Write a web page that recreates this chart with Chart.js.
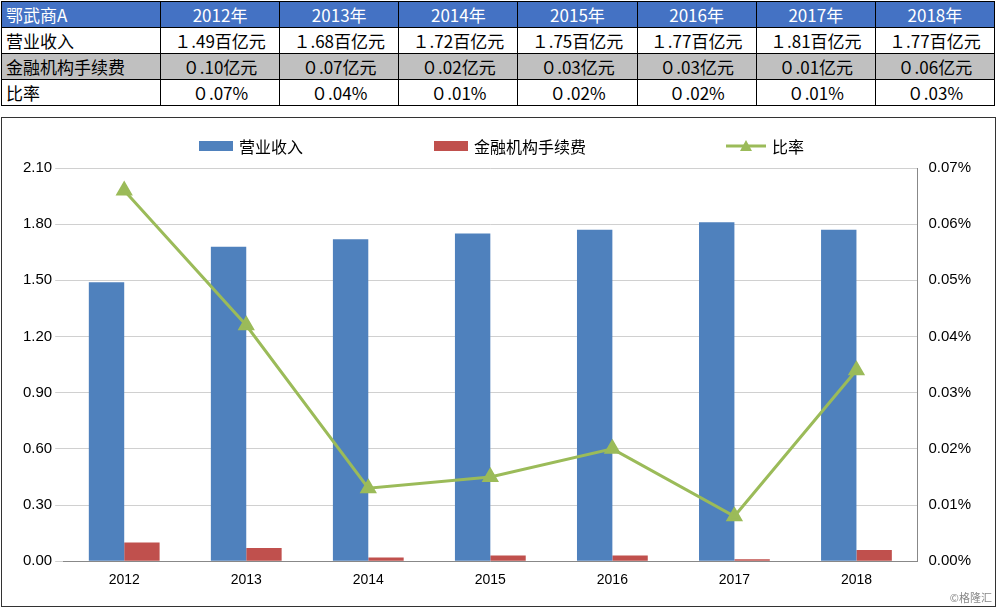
<!DOCTYPE html>
<html><head><meta charset="utf-8">
<script src="https://cdn.jsdelivr.net/npm/chart.js@4"></script>
<style>
body{margin:0;background:#fff;font-family:"Noto Sans CJK SC","DejaVu Sans",sans-serif;}
table{position:absolute;left:1px;top:1px;width:994px;border-collapse:collapse;font-size:17px;}
td{border:1px solid #000;height:25px;padding:0 4px;text-align:center;white-space:nowrap;}
tr.h td{background:#4472C4;color:#fff;}
tr.h td:first-child{text-align:left}
tr.g td{background:#c0c0c0}
td:first-child{text-align:left;width:150px}
#box{position:absolute;left:1px;top:117px;width:993px;height:488px;border:1px solid #333;}
#wm{position:absolute;right:8px;bottom:4px;font-size:11px;color:#888}
.lg{position:absolute;top:16px;font-size:16px;display:flex;align-items:center}
.lg i{display:inline-block;width:34px;height:10px;margin-right:6px}
</style></head><body>
<table id="tbl"></table>
<div id="box"><canvas id="c"></canvas>
<div class="lg" style="left:197px"><i style="background:#4F81BD"></i>营业收入</div>
<div class="lg" style="left:432px"><i style="background:#C0504D"></i>金融机构手续费</div>
<div class="lg" style="left:724px"><svg width="40" height="14" style="margin-right:6px"><line x1="0" y1="7" x2="40" y2="7" stroke="#9BBB59" stroke-width="3"/><polygon points="20,1 26,12 14,12" fill="#9BBB59"/></svg>比率</div>
</div>
<div id="wm">©格隆汇</div>
<script>
const years = ['2012','2013','2014','2015','2016','2017','2018'];
const revenue = [1.49, 1.68, 1.72, 1.75, 1.77, 1.81, 1.77];
const fees = [0.10, 0.07, 0.02, 0.03, 0.03, 0.01, 0.06];
const ratio = [0.066, 0.042, 0.013, 0.015, 0.020, 0.008, 0.034];
const revenueText = ['１.49百亿元','１.68百亿元','１.72百亿元','１.75百亿元','１.77百亿元','１.81百亿元','１.77百亿元'];
const feeText = ['０.10亿元','０.07亿元','０.02亿元','０.03亿元','０.03亿元','０.01亿元','０.06亿元'];
const ratioText = ['０.07%','０.04%','０.01%','０.02%','０.02%','０.01%','０.03%'];

// таблица сверху
const tbl = document.getElementById('tbl');
const rows = [
    ['h', '鄂武商A', years.map(y => y + '年')],
    ['', '营业收入', revenueText],
    ['g', '金融机构手续费', feeText],
    ['', '比率', ratioText]
];
rows.forEach(([cls, name, vals]) => {
    const tr = document.createElement('tr');
    tr.className = cls;
    tr.innerHTML = '<td>' + name + '</td>' + vals.map(v => '<td>' + v + '</td>').join('');
    tbl.appendChild(tr);
});

const canvas = document.getElementById('c');
canvas.width = 993; canvas.height = 488;
canvas.style.width = '993px'; canvas.style.height = '488px';

new Chart(canvas, {
    data: {
        labels: years,
        datasets: [
            {type: 'bar', label: '营业收入', data: revenue, backgroundColor: '#4F81BD', yAxisID: 'y', order: 1,
             categoryPercentage: 0.58, barPercentage: 1},
            {type: 'bar', label: '金融机构手续费', data: fees, backgroundColor: '#C0504D', yAxisID: 'y', order: 1,
             categoryPercentage: 0.58, barPercentage: 1},
            {type: 'line', label: '比率', data: ratio, yAxisID: 'y1', borderColor: '#9BBB59', backgroundColor: '#9BBB59',
             borderWidth: 3, pointStyle: 'triangle', pointRadius: 7, tension: 0, order: 0}
        ]
    },
    options: {
        responsive: false,
        animation: false,
        layout: {padding: {left: 18, right: 21, top: 50, bottom: 14}},
        plugins: {legend: {display: false}, tooltip: {enabled: false}},
        scales: {
            x: {grid: {display: false}, ticks: {color: '#000', font: {size: 14}}, border: {color: '#888'}},
            y: {min: 0, max: 2.1, ticks: {stepSize: 0.3, color: '#000', font: {size: 15}, callback: v => v.toFixed(2)},
                grid: {color: '#d0d0d0'}, border: {display: false}},
            y1: {position: 'right', min: 0, max: 0.07, ticks: {stepSize: 0.01, color: '#000', font: {size: 15},
                callback: v => v.toFixed(2) + '%'}, grid: {display: false}, border: {color: '#888'}}
        }
    }
});
</script>
</body></html>
